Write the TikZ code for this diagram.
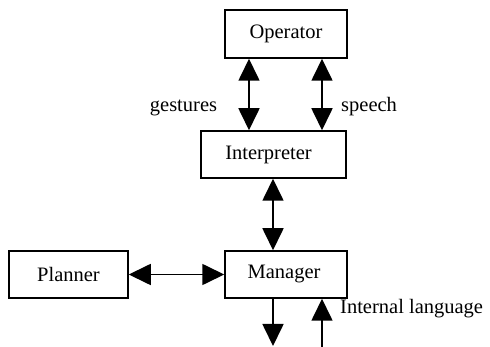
\documentclass[tikz,border=0pt]{standalone}
\usepackage{fontspec}
\setmainfont{Liberation Serif}
\usetikzlibrary{arrows.meta}
\begin{document}
\begin{tikzpicture}[x=1pt,y=-1pt,
  box/.style={draw,line width=1.5pt,inner sep=0pt,minimum height=47pt,font=\fontsize{20.5}{24}\selectfont},
  lbl/.style={inner sep=0pt,font=\fontsize{20.5}{24}\selectfont},
  dbl/.style={line width=1.7pt,{Triangle[length=22pt,width=21pt]}-{Triangle[length=22pt,width=21pt]}},
  sgl/.style={line width=1.7pt,-{Triangle[length=22pt,width=21pt]}}]
\useasboundingbox (0,0) rectangle (490,347);
\node[box,minimum width=122pt,minimum height=48pt] (op) at (286,34) {Operator};
\node[box,minimum width=145pt] (int) at (273.5,154.5) {\hspace*{-10pt}Interpreter};
\node[box,minimum width=122pt] (man) at (286,274.5) {\hspace*{-4pt}Manager};
\node[box,minimum width=119pt] (plan) at (68.5,274.5) {Planner};
\coordinate (g) at (249,0);
\coordinate (s) at (322,0);
\coordinate (m) at (273,0);
\coordinate (outend) at (273,346);
\coordinate (inend) at (322,347);
\draw[dbl] (op.south -| g) -- (int.north -| g);
\draw[dbl] (op.south -| s) -- (int.north -| s);
\draw[dbl] (int.south -| m) -- (man.north -| m);
\draw[dbl] (plan.east) -- (man.west);
\draw[sgl] (man.south -| outend) -- (outend);
\draw[sgl] (inend) -- (man.south -| inend);
\node[lbl,anchor=base] (gl) at (183.5,112) {gestures};
\node[lbl,anchor=base west] (sl) at (341,112) {speech};
\node[lbl,anchor=base west] (il) at (340,314) {Internal language};
\end{tikzpicture}
\end{document}
